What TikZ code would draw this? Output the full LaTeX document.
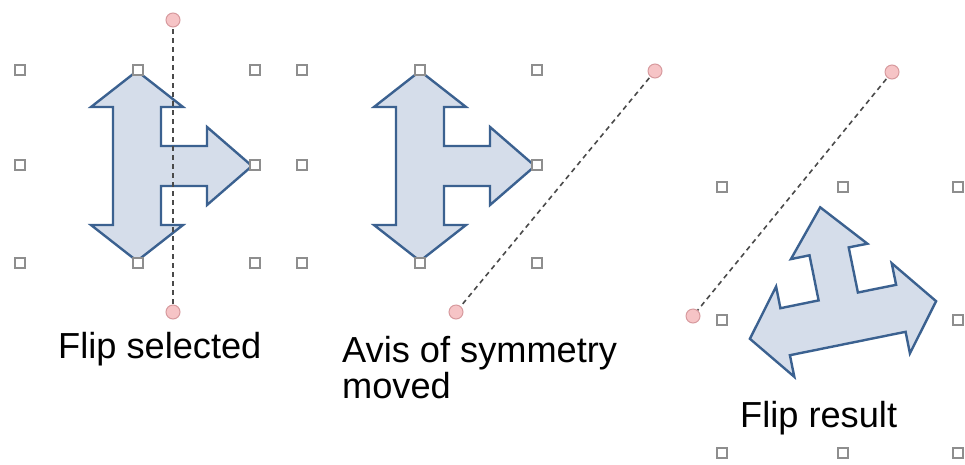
\documentclass[tikz,border=0pt]{standalone}
\usepackage{fontspec}
\setmainfont{Liberation Sans}
\definecolor{arrowfill}{HTML}{D5DDEA}
\definecolor{arrowline}{HTML}{3B6190}
\definecolor{handleline}{HTML}{8E8E8E}
\definecolor{pinkfill}{HTML}{F6C4C6}
\definecolor{pinkline}{HTML}{D79A9E}
\definecolor{axisgray}{HTML}{4A4A4A}
\tikzset{
  arrowshape/.style={fill=arrowfill, draw=arrowline, line width=2.4pt, line join=miter},
  handle/.style={rectangle, draw=handleline, fill=white, line width=1.8pt, minimum size=10pt, inner sep=0pt},
  pivot/.style={circle, draw=pinkline, fill=pinkfill, line width=1pt, minimum size=14pt, inner sep=0pt},
  axisdash/.style={draw=axisgray, line width=1.6pt, dash pattern=on 5pt off 4pt},
  lbl/.style={anchor=base west, inner sep=0pt, font=\fontsize{36.2}{37}\selectfont, text=black}
}
\begin{document}
\begin{tikzpicture}[x=1pt, y=-1pt]
\useasboundingbox (0,0) rectangle (965,464);

% original arrow (panel 1)
\draw[arrowshape, shift={(137,166)}]
  (0,-95) -- (46,-59) -- (24,-59) -- (24,-20) -- (70,-20) -- (70,-39) -- (115,0)
  -- (70,39) -- (70,20) -- (24,20) -- (24,59) -- (46,59) -- (0,95)
  -- (-46,59) -- (-24,59) -- (-24,-59) -- (-46,-59) -- cycle;
% original arrow (panel 2)
\draw[arrowshape, shift={(420,166)}]
  (0,-95) -- (46,-59) -- (24,-59) -- (24,-20) -- (70,-20) -- (70,-39) -- (115,0)
  -- (70,39) -- (70,20) -- (24,20) -- (24,59) -- (46,59) -- (0,95)
  -- (-46,59) -- (-24,59) -- (-24,-59) -- (-46,-59) -- cycle;
% flipped arrow (panel 3)
\draw[arrowshape]
  (936.1,301.2) -- (891.7,263.2) -- (896.1,284.8) -- (857.9,292.5) -- (848.7,247.4)
  -- (867.4,243.7) -- (820.2,207.3) -- (790.9,259.1) -- (809.5,255.3) -- (818.6,300.4)
  -- (780.4,308.2) -- (776.1,286.6) -- (749.9,338.8) -- (794.3,376.8) -- (789.9,355.2)
  -- (905.6,331.8) -- (909.9,353.4) -- cycle;

% axes of symmetry
\coordinate (a1s) at (173,20);
\coordinate (a1e) at (173,312);
\coordinate (a2s) at (655,71);
\coordinate (a2e) at (456,312);
\coordinate (a3s) at (892,72);
\coordinate (a3e) at (693,316);
\draw[axisdash] (a1s) -- (a1e);
\draw[axisdash] (a2s) -- (a2e);
\draw[axisdash] (a3s) -- (a3e);

% selection handles
\foreach \x/\y/\n in {20/70/a, 138/70/b, 255/70/c, 20/165/d, 255/165/e, 20/263/f, 138/263/g, 255/263/h}
  \node[handle] (p1\n) at (\x,\y) {};
\foreach \x/\y/\n in {302/70/a, 420/70/b, 537/70/c, 302/165/d, 537/165/e, 302/263/f, 420/263/g, 537/263/h}
  \node[handle] (p2\n) at (\x,\y) {};
\foreach \x/\y/\n in {722/187/a, 843/187/b, 958/187/c, 722/320/d, 958/320/e, 722/453/f, 843/453/g, 958/453/h}
  \node[handle] (p3\n) at (\x,\y) {};

% pivot points
\node[pivot] (c1s) at (a1s) {};
\node[pivot] (c1e) at (a1e) {};
\node[pivot] (c2s) at (a2s) {};
\node[pivot] (c2e) at (a2e) {};
\node[pivot] (c3s) at (a3s) {};
\node[pivot] (c3e) at (a3e) {};

% labels
\node[lbl] (t1) at (58,358) {Flip selected};
\node[lbl] (t2a) at (342,362) {Avis of symmetry};
\node[lbl] (t2b) at (342,398) {moved};
\node[lbl] (t3) at (740,427) {Flip result};
\end{tikzpicture}
\end{document}
